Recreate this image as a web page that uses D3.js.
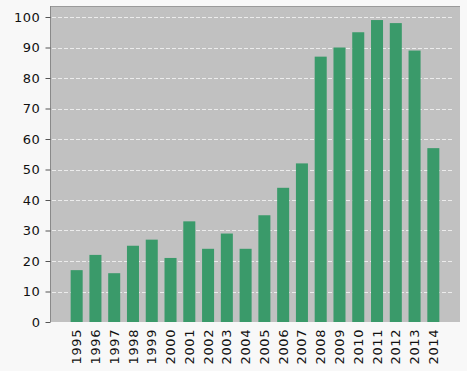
<!DOCTYPE html>
<html>
<head>
<meta charset="utf-8">
<script src="https://cdn.jsdelivr.net/npm/d3@7"></script>
<style>
  body { margin: 0; background: #f8f8f8; }
  text { font-family: "DejaVu Sans", sans-serif; fill: #111; }
</style>
</head>
<body>
<div class="chart"></div>
<script>
var width = 467,
    height = 371;

var years = ["1995","1996","1997","1998","1999","2000","2001","2002","2003","2004",
             "2005","2006","2007","2008","2009","2010","2011","2012","2013","2014"];
var values = [17, 22, 16, 25, 27, 21, 33, 24, 29, 24, 35, 44, 52, 87, 90, 95, 99, 98, 89, 57];
var yTicks = [0, 10, 20, 30, 40, 50, 60, 70, 80, 90, 100];

var plot = { left: 50, right: 460, top: 6, bottom: 322 };

var svg = d3.select(".chart").append("svg")
            .attr("width", width)
            .attr("height", height);

var x = d3.scaleBand()
          .domain(years)
          .range([plot.left, plot.right])
          .paddingInner(0.36)
          .paddingOuter(1.1);

var y = d3.scaleLinear()
          .domain([0, 100])
          .range([plot.bottom, 17]);

// plot background
svg.append("rect")
   .attr("x", plot.left)
   .attr("y", plot.top)
   .attr("width", plot.right - plot.left)
   .attr("height", plot.bottom - plot.top)
   .attr("fill", "#c1c1c1");

// top border
svg.append("line")
   .attr("x1", plot.left).attr("x2", plot.right)
   .attr("y1", plot.top + 0.5).attr("y2", plot.top + 0.5)
   .attr("stroke", "#9a9a9a");

// grid lines
svg.selectAll(".grid")
   .data(yTicks.filter(d => d > 0))
   .enter().append("line")
   .attr("class", "grid")
   .attr("x1", plot.left + 2)
   .attr("x2", plot.right - 8)
   .attr("y1", d => Math.round(y(d)) + 0.5)
   .attr("y2", d => Math.round(y(d)) + 0.5)
   .attr("stroke", "#ececec")
   .attr("stroke-dasharray", "4,2");

// bars
svg.selectAll(".bar")
   .data(values)
   .enter().append("rect")
   .attr("class", "bar")
   .attr("x", (d, i) => x(years[i]))
   .attr("y", d => y(d))
   .attr("width", x.bandwidth())
   .attr("height", d => y(0) - y(d))
   .attr("fill", "#3a9a6a");

// y axis
var yAxis = d3.axisLeft(y)
              .tickValues(yTicks)
              .tickSize(5)
              .tickPadding(5);

var gy = svg.append("g")
   .attr("transform", "translate(" + (plot.left + 0.5) + ",0)")
   .call(yAxis);
gy.select(".domain").attr("stroke", "#8a8a8a").attr("d", "M0," + plot.top + "V" + plot.bottom);
gy.selectAll(".tick line").attr("stroke", "#555");
gy.selectAll("text")
  .style("font-size", "13px")
  .attr("letter-spacing", "0.6px")
  .attr("fill", "#111");

// x axis
var xAxis = d3.axisBottom(x).tickSize(0).tickPadding(0);
var gx = svg.append("g")
   .attr("transform", "translate(0," + plot.bottom + ")")
   .call(xAxis);
gx.select(".domain").remove();
gx.selectAll("text")
  .style("font-size", "13px")
  .attr("letter-spacing", "0.6px")
  .attr("fill", "#111")
  .attr("text-anchor", "end")
  .attr("dy", "0.35em")
  .attr("transform", "translate(0,7) rotate(-90)")
  .attr("y", 0)
  .attr("x", 0);
</script>
</body>
</html>
